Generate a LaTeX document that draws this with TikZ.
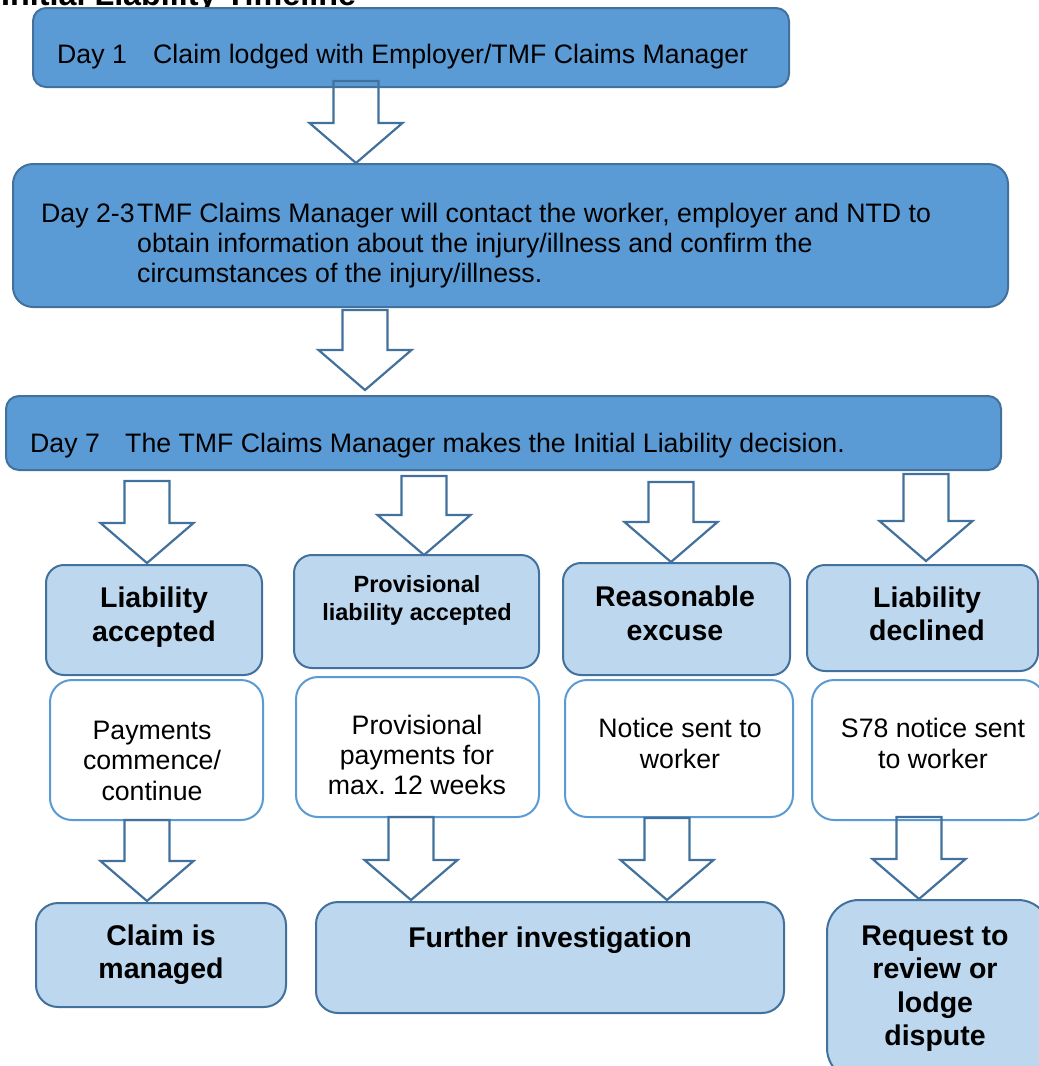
\documentclass[tikz,border=0pt]{standalone}
\usepackage{fontspec}
\setmainfont{Liberation Sans}
\usetikzlibrary{calc}
\frenchspacing
\definecolor{darkfill}{HTML}{5B9BD5}
\definecolor{edgeblue}{HTML}{41719C}
\definecolor{lightfill}{HTML}{BDD7EE}
\definecolor{lightedge}{HTML}{5B9BD5}
\tikzset{
  basebox/.style={rectangle, line width=2pt, inner sep=0pt},
  daybox/.style={basebox, draw=edgeblue, fill=darkfill, rounded corners=13pt},
  decbox/.style={basebox, draw=edgeblue, fill=lightfill, rounded corners=18pt},
  infobox/.style={basebox, draw=lightedge, fill=white, rounded corners=22pt},
  outbox/.style={basebox, draw=edgeblue, fill=lightfill, rounded corners=22pt},
  txt/.style={font=\fontsize{26.7}{30}\selectfont, inner sep=0pt, anchor=base},
  ltxt/.style={txt, anchor=base west},
  btxt/.style={font=\fontsize{28.5}{33}\bfseries\selectfont, inner sep=0pt, anchor=base},
  stxt/.style={font=\fontsize{23.5}{28}\bfseries\selectfont, inner sep=0pt, anchor=base},
  blk/.style={draw=edgeblue, line width=2.2pt, line join=miter},
}
\newcommand\blockarrow[2]{%
  \draw[blk] let \p1=(#1), \p2=(#2) in
  (\x1-22.5pt,\y1) -- (\x1+22.5pt,\y1) -- (\x1+22.5pt,\y2+40pt) -- (\x1+46.5pt,\y2+40pt)
  -- (\x1,\y2) -- (\x1-46.5pt,\y2+40pt) -- (\x1-22.5pt,\y2+40pt) -- cycle;}
\begin{document}
\begin{tikzpicture}[x=1pt,y=-1pt]
\useasboundingbox (0,0) rectangle (1039,1066);
\fill[white] (0,0) rectangle (1039,1066);
% title (cut off at top)
\node[font=\fontsize{32.3}{36}\bfseries\selectfont, inner sep=0pt, anchor=base west] (title) at (1,5) {Initial Liability Timeline};

% day boxes
\node[daybox, minimum width=756pt, minimum height=79pt] (d1) at (411,47.5) {};
\node[ltxt] (d1a) at (57,63) {Day 1};
\node[ltxt] (d1b) at (153,63) {Claim lodged with Employer/TMF Claims Manager};

\node[daybox, rounded corners=20pt, minimum width=995pt, minimum height=143pt] (d2) at (510.5,235.5) {};
\node[ltxt] (d2a) at (41,222) {Day 2-3};
\node[ltxt] (d2b) at (137,222) {TMF Claims Manager will contact the worker, employer and NTD to};
\node[ltxt] (d2c) at (137,252) {obtain information about the injury/illness and confirm the};
\node[ltxt] (d2d) at (137,282) {circumstances of the injury/illness.};

\node[daybox, minimum width=995pt, minimum height=74pt] (d3) at (503.5,433) {};
\node[ltxt] (d3a) at (30,452) {Day 7};
\node[ltxt] (d3b) at (125,452) {The TMF Claims Manager makes the Initial Liability decision.};

% decision boxes
\node[decbox, minimum width=216pt, minimum height=110pt] (ba) at (154,620) {};
\node[btxt] (ba1) at (154,607) {Liability};
\node[btxt] (ba2) at (154,641) {accepted};

\node[decbox, minimum width=245pt, minimum height=113pt] (bb) at (416.5,611.5) {};
\node[stxt] (bb1) at (417,592) {Provisional};
\node[stxt] (bb2) at (417,620) {liability accepted};

\node[decbox, minimum width=227pt, minimum height=112pt] (bc) at (676.5,619) {};
\node[btxt] (bc1) at (675,606) {Reasonable};
\node[btxt] (bc2) at (675,640) {excuse};

\node[decbox, minimum width=231pt, minimum height=106pt] (bd) at (922.5,618) {};
\node[btxt] (bd1) at (927,607) {Liability};
\node[btxt] (bd2) at (927,640) {declined};

% info boxes
\node[infobox, minimum width=213pt, minimum height=140pt] (ia) at (156.5,750) {};
\node[txt] (ia1) at (152,739) {Payments};
\node[txt] (ia2) at (152,769) {commence/};
\node[txt] (ia3) at (152,800) {continue};

\node[infobox, minimum width=243pt, minimum height=140pt] (ib) at (417.5,747) {};
\node[txt] (ib1) at (417,734) {Provisional};
\node[txt] (ib2) at (417,764) {payments for};
\node[txt] (ib3) at (417,794) {max. 12 weeks};

\node[infobox, minimum width=228pt, minimum height=137pt] (ic) at (679,748.5) {};
\node[txt] (ic1) at (680,737) {Notice sent to};
\node[txt] (ic2) at (680,768) {worker};

\node[infobox, minimum width=233pt, minimum height=140pt] (id) at (928.5,750) {};
\node[txt] (id1) at (933,737) {S78 notice sent};
\node[txt] (id2) at (933,768) {to worker};

% outcome boxes
\node[outbox, minimum width=250pt, minimum height=104pt] (oa) at (161,955) {};
\node[btxt] (oa1) at (161,945) {Claim is};
\node[btxt] (oa2) at (161,978) {managed};

\node[outbox, minimum width=468pt, minimum height=111pt] (ob) at (550,957.5) {};
\node[btxt] (ob1) at (550,947) {Further investigation};

\node[outbox, rounded corners=32pt, minimum width=223pt, minimum height=180pt] (od) at (938.5,990) {};
\node[btxt] (od1) at (935,945) {Request to};
\node[btxt] (od2) at (935,978) {review or};
\node[btxt] (od3) at (935,1012) {lodge};
\node[btxt] (od4) at (935,1045) {dispute};

% block arrows
\coordinate (a1t) at (356,81);  \coordinate (a1h) at (356,163);
\coordinate (a2t) at (365,310); \coordinate (a2h) at (365,390);
\coordinate (aat) at (147,481); \coordinate (aah) at (147,563);
\coordinate (abt) at (424,476); \coordinate (abh) at (424,555);
\coordinate (act) at (671,482); \coordinate (ach) at (671,562);
\coordinate (adt) at (926,474); \coordinate (adh) at (926,561);
\coordinate (at1) at (147,820); \coordinate (ah1) at (147,901);
\coordinate (bt1) at (411,817); \coordinate (bh1) at (411,900);
\coordinate (ct1) at (667,818); \coordinate (ch1) at (667,900);
\coordinate (dt1) at (919,817); \coordinate (dh1) at (919,899);
\blockarrow{a1t}{a1h}
\blockarrow{a2t}{a2h}
\blockarrow{aat}{aah}
\blockarrow{abt}{abh}
\blockarrow{act}{ach}
\blockarrow{adt}{adh}
\blockarrow{at1}{ah1}
\blockarrow{bt1}{bh1}
\blockarrow{ct1}{ch1}
\blockarrow{dt1}{dh1}
\end{tikzpicture}
\end{document}
